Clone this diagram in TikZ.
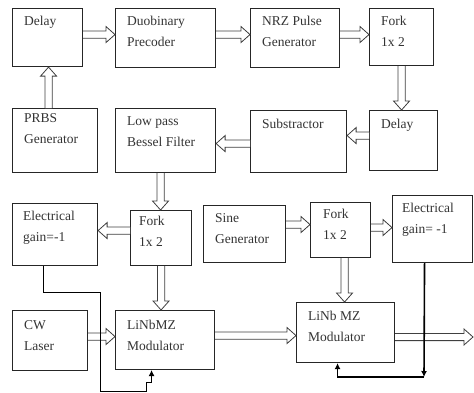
\documentclass[tikz,border=0pt]{standalone}
\usepackage{fontspec}
\setmainfont{Liberation Serif}
\usetikzlibrary{arrows.meta,calc}
\newcommand\darw[2]{%
  \coordinate (da) at (#1);
  \coordinate (db) at (#2);
  \coordinate (dh) at ($(db)!9pt!(da)$);
  \draw[dshape] ($(da)!3.6pt!90:(db)$) -- ($(dh)!3.6pt!90:(db)$)
     -- ($(dh)!8pt!90:(db)$) -- (db) -- ($(dh)!8pt!-90:(db)$)
     -- ($(dh)!3.6pt!-90:(db)$) -- ($(da)!3.6pt!-90:(db)$);
}
\begin{document}
\begin{tikzpicture}[x=1pt,y=-1pt,
  box/.style={draw=black!85, line width=1.1pt, inner sep=0pt, anchor=north west},
  lbl/.style={anchor=north west, inner sep=0pt, align=left, text=black!80,
    font=\fontsize{13.5}{21}\selectfont},
  dshape/.style={draw=black!75, line width=0.8pt, fill=white, line join=miter},
  fbthin/.style={draw=black, line width=0.9pt, -{Latex[length=6pt,width=6pt]}},
  fbthick/.style={draw=black, line width=1.6pt, -{Latex[length=6pt,width=6pt]}}]
\path[use as bounding box] (0,0) rectangle (474,392);
% boxes
\node[box, minimum width=70pt, minimum height=58pt] (delayA) at (12,8) {};
\node[box, minimum width=100pt, minimum height=59pt] (duob) at (115,8) {};
\node[box, minimum width=89pt, minimum height=59pt] (nrz) at (250,8) {};
\node[box, minimum width=64pt, minimum height=57pt] (forkA) at (369,8) {};
\node[box, minimum width=85pt, minimum height=64pt] (prbs) at (12,108) {};
\node[box, minimum width=100pt, minimum height=64pt] (lpf) at (115,108) {};
\node[box, minimum width=96pt, minimum height=62pt] (subs) at (250,110) {};
\node[box, minimum width=68pt, minimum height=60pt] (delayB) at (369,110) {};
\node[box, minimum width=85pt, minimum height=62pt] (egL) at (12,203) {};
\node[box, minimum width=61pt, minimum height=55pt] (forkL) at (130,210) {};
\node[box, minimum width=82pt, minimum height=57pt] (sine) at (203,205) {};
\node[box, minimum width=60pt, minimum height=55pt] (forkR) at (310,202) {};
\node[box, minimum width=80pt, minimum height=67pt] (egR) at (392,195) {};
\node[box, minimum width=75pt, minimum height=60pt] (cw) at (12,310) {};
\node[box, minimum width=99pt, minimum height=59pt] (modL) at (115,310) {};
\node[box, minimum width=98pt, minimum height=60pt] (modR) at (296,302) {};
% labels
\node[lbl] (t1) at ($(delayA.north west)+(12,8)$) {Delay};
\node[lbl] (t2) at ($(duob.north west)+(12,8)$) {Duobinary\\Precoder};
\node[lbl] (t3) at ($(nrz.north west)+(12,8)$) {NRZ Pulse\\Generator};
\node[lbl] (t4) at ($(forkA.north west)+(12,8)$) {Fork\\1x 2};
\node[lbl] (t5) at ($(prbs.north west)+(12,5)$) {PRBS\\Generator};
\node[lbl] (t6) at ($(lpf.north west)+(12,8)$) {Low pass\\Bessel Filter};
\node[lbl] (t7) at ($(subs.north west)+(12,9)$) {Substractor};
\node[lbl] (t8) at ($(delayB.north west)+(12,9)$) {Delay};
\node[lbl] (t9) at ($(egL.north west)+(11,8)$) {Electrical\\gain=-1};
\node[lbl] (t10) at ($(forkL.north west)+(9,6)$) {Fork\\1x 2};
\node[lbl] (t11) at ($(sine.north west)+(12,8)$) {Sine\\Generator};
\node[lbl] (t12) at ($(forkR.north west)+(13,7)$) {Fork\\1x 2};
\node[lbl] (t13) at ($(egR.north west)+(10,8)$) {Electrical\\gain= -1};
\node[lbl] (t14) at ($(cw.north west)+(12,10)$) {CW\\Laser};
\node[lbl] (t15) at ($(modL.north west)+(12,10)$) {LiNbMZ\\Modulator};
\node[lbl] (t16) at ($(modR.north west)+(12,9)$) {LiNb MZ\\Modulator};
% double arrows
\darw{[yshift=3pt]delayA.east}{[yshift=3pt]delayA.east -| duob.west}
\darw{[yshift=3.5pt]duob.east}{[yshift=3.5pt]duob.east -| nrz.west}
\darw{[yshift=3.5pt]nrz.east}{[yshift=3.5pt]nrz.east -| forkA.west}
\darw{forkA.south}{forkA.south |- delayB.north}
\darw{[yshift=5pt]delayB.west}{[yshift=5pt]delayB.west -| subs.east}
\darw{[yshift=-2pt]subs.west}{[yshift=-2pt]subs.west -| lpf.east}
\darw{[xshift=-6.5pt]prbs.north}{[xshift=-6.5pt]prbs.north |- delayA.south}
\darw{[xshift=-5pt]lpf.south}{[xshift=-5pt]lpf.south |- forkL.north}
\darw{[yshift=7.5pt]forkL.west}{[yshift=7.5pt]forkL.west -| egL.east}
\darw{forkL.south}{forkL.south |- modL.north}
\darw{[yshift=4pt]cw.east}{[yshift=4pt]cw.east -| modL.west}
\darw{[yshift=4.5pt]modL.east}{[yshift=4.5pt]modL.east -| modR.west}
\darw{[yshift=9.5pt]sine.east}{[yshift=9.5pt]sine.east -| forkR.west}
\darw{[yshift=2.5pt]forkR.east}{[yshift=2.5pt]forkR.east -| egR.west}
\darw{[xshift=4pt]forkR.south}{[xshift=4pt]forkR.south |- modR.north}
\coordinate (out) at (473,337);
\darw{modR.east |- out}{out}
% feedback lines
\draw[fbthin] ([xshift=-11.5pt]egL.south) -- ++(0,26) -- ++(57,0) -- ++(0,99)
  -- ++(46,0) -- ++(0,-9) -- ++(5,0) -- ([xshift=-13.5pt]modL.south);
\coordinate (c1) at (424,377);
\draw[fbthick] ([xshift=-8pt]egR.south) -- (c1);
\draw[fbthick] (c1) -| ([xshift=-8pt]modR.south);
\end{tikzpicture}
\end{document}
